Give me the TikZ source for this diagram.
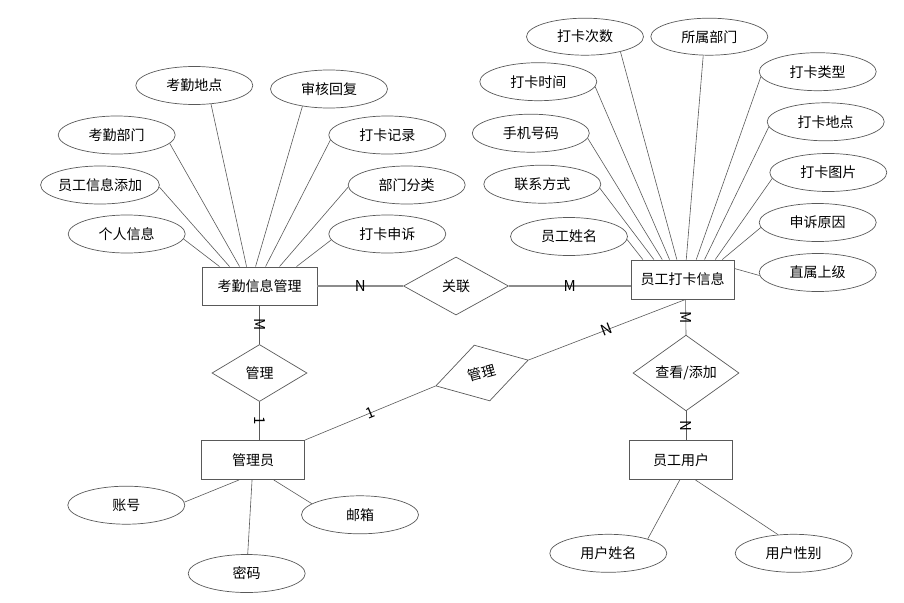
\documentclass[tikz,border=0pt]{standalone}
\usepackage{fontspec}
\newfontfamily\cjk{Noto Sans CJK SC}
\usetikzlibrary{shapes.geometric}
\definecolor{edgegray}{HTML}{595959}
\definecolor{relgray}{HTML}{8C8C8C}

\begin{document}
\begin{tikzpicture}[x=1pt,y=-1pt,
    every node/.style={font=\cjk\fontsize{14}{16}\selectfont},
    entity/.style={draw=edgegray,line width=0.9pt,minimum width=103pt,minimum height=39pt,inner sep=0pt},
    attrib/.style={ellipse,draw=edgegray,line width=0.7pt,minimum width=117pt,minimum height=38pt,inner sep=0pt},
    relation/.style={diamond,draw=edgegray,line width=0.7pt,inner sep=0pt},
    link/.style={draw=edgegray,line width=0.6pt},
    card/.style={inner sep=0pt,font=\cjk\fontsize{15}{16}\selectfont}]
  \useasboundingbox (0,0) rectangle (904,602);

  % Entities
  \node[entity,minimum width=115pt,minimum height=38pt] (kqgl) at (259.5,286) {考勤信息管理};
  \node[entity] (ygdk) at (682.5,279.5) {员工打卡信息};
  \node[entity] (gly) at (253,460) {管理员};
  \node[entity] (yghu) at (681,460) {员工用户};

  % Relations
  \node[relation,minimum width=105pt,minimum height=58pt] (guanlian) at (456,286) {关联};
  \node[relation,minimum width=95pt,minimum height=57pt] (guanli) at (259.5,373) {管理};
  \node[relation,minimum width=96pt,minimum height=58pt,rotate=15.6] (guanli2) at (482,373) {管理};
  \node[relation,minimum width=106pt,minimum height=57pt] (chakan) at (686,373) {查看/添加};

  % Attributes of kqgl
  \node[attrib] (kqdd) at (194.3,85.5) {考勤地点};
  \node[attrib] (shhf) at (329,89) {审核回复};
  \node[attrib] (kqbm) at (116.7,135) {考勤部门};
  \node[attrib] (dkjl) at (387.3,135) {打卡记录};
  \node[attrib] (xxtj) at (100,185) {员工信息添加};
  \node[attrib] (bmfl) at (406.7,185) {部门分类};
  \node[attrib] (grxx) at (126.7,234) {个人信息};
  \node[attrib] (dkss) at (387.3,234) {打卡申诉};

  \draw[link] (grxx.-5) -- ([xshift=18pt]kqgl.north west);
  \draw[link] (xxtj.-2) -- ([xshift=28pt]kqgl.north west);
  \draw[link] (kqbm.-9) -- ([xshift=38pt]kqgl.north west);
  \draw[link] (kqdd.-48) -- ([xshift=45pt]kqgl.north west);
  \draw[link] (shhf.-147) -- ([xshift=54pt]kqgl.north west);
  \draw[link] (dkjl.-175) -- ([xshift=64pt]kqgl.north west);
  \draw[link] (bmfl.-178) -- ([xshift=78pt]kqgl.north west);
  \draw[link] (dkss.-174) -- ([xshift=95pt]kqgl.north west);

  % Attributes of ygdk
  \node[attrib,minimum height=37pt] (dkcs) at (585,36.7) {打卡次数};
  \node[attrib,minimum height=37pt] (ssbm) at (709.3,36.7) {所属部门};
  \node[attrib] (dksj) at (538.3,81.7) {打卡时间};
  \node[attrib] (dklx) at (817.7,71.7) {打卡类型};
  \node[attrib] (sjhm) at (530.8,133.2) {手机号码};
  \node[attrib] (dkdd) at (825.7,121.8) {打卡地点};
  \node[attrib] (lxfs) at (542.3,184.2) {联系方式};
  \node[attrib] (dktp) at (828.3,172.5) {打卡图片};
  \node[attrib] (ygxm) at (569,236.5) {员工姓名};
  \node[attrib] (ssyy) at (817.7,222.5) {申诉原因};
  \node[attrib] (zssj) at (817.7,272.5) {直属上级};

  \draw[link] (ygxm.-3) -- ([xshift=12.3pt]ygdk.north west);
  \draw[link] (lxfs.-4) -- ([xshift=23.3pt]ygdk.north west);
  \draw[link] (sjhm.-5) -- ([xshift=31.7pt]ygdk.north west);
  \draw[link] (dksj.-5) -- ([xshift=39pt]ygdk.north west);
  \draw[link] (dkcs.-23) -- ([xshift=46.3pt]ygdk.north west);
  \draw[link] (ssbm.-108) -- ([xshift=55.7pt]ygdk.north west);
  \draw[link] (dklx.-175) -- ([xshift=65.7pt]ygdk.north west);
  \draw[link] (dkdd.-175) -- ([xshift=74pt]ygdk.north west);
  \draw[link] (dktp.-174) -- ([xshift=84.7pt]ygdk.north west);
  \draw[link] (ssyy.-175) -- ([xshift=91.7pt]ygdk.north west);
  \draw[link] (zssj.-177) -- ([yshift=11pt]ygdk.east);

  % Attributes of gly and yghu
  \node[attrib] (zhanghao) at (126.3,505.2) {账号};
  \node[attrib] (mima) at (246.7,573.5) {密码};
  \node[attrib] (youxiang) at (360,514.8) {邮箱};
  \node[attrib] (yhxm) at (608.3,553.3) {用户姓名};
  \node[attrib] (yhxb) at (793.7,553.3) {用户性别};

  \draw[link] (zhanghao.3) -- ([xshift=38pt]gly.south west);
  \draw[link] (mima.87) -- ([xshift=51pt]gly.south west);
  \draw[link] (youxiang.167) -- ([xshift=72.7pt]gly.south west);
  \draw[link] (yhxm.20) -- ([xshift=50.7pt]yghu.south west);
  \draw[link] (yhxb.130) -- ([xshift=66.4pt]yghu.south west);

  % Relation lines
  \draw[relgray,line width=1.4pt] (kqgl.east) -- (guanlian.west) node[card,midway,text=black] {N};
  \draw[relgray,line width=1.4pt] (guanlian.east) -- (guanlian.east -| ygdk.west) node[card,midway,text=black] {M};
  \draw[link] (kqgl.south) -- (guanli.north) node[card,midway,rotate=-90] {M};
  \draw[link] (guanli.south) -- (guanli.south |- gly.north) node[card,midway,rotate=-90] {1};
  \draw[link] (gly.north east) -- (guanli2.west) node[card,midway,sloped] {1};
  \draw[link] (guanli2.east) -- ([xshift=55pt]ygdk.south west) node[card,midway,sloped] {N};
  \draw[link] ([xshift=55pt]ygdk.south west) -- (chakan.north) node[card,midway,rotate=-90] {M};
  \draw[link] (chakan.south) -- (chakan.south |- yghu.north) node[card,midway,rotate=-90] {N};

\end{tikzpicture}
\end{document}
